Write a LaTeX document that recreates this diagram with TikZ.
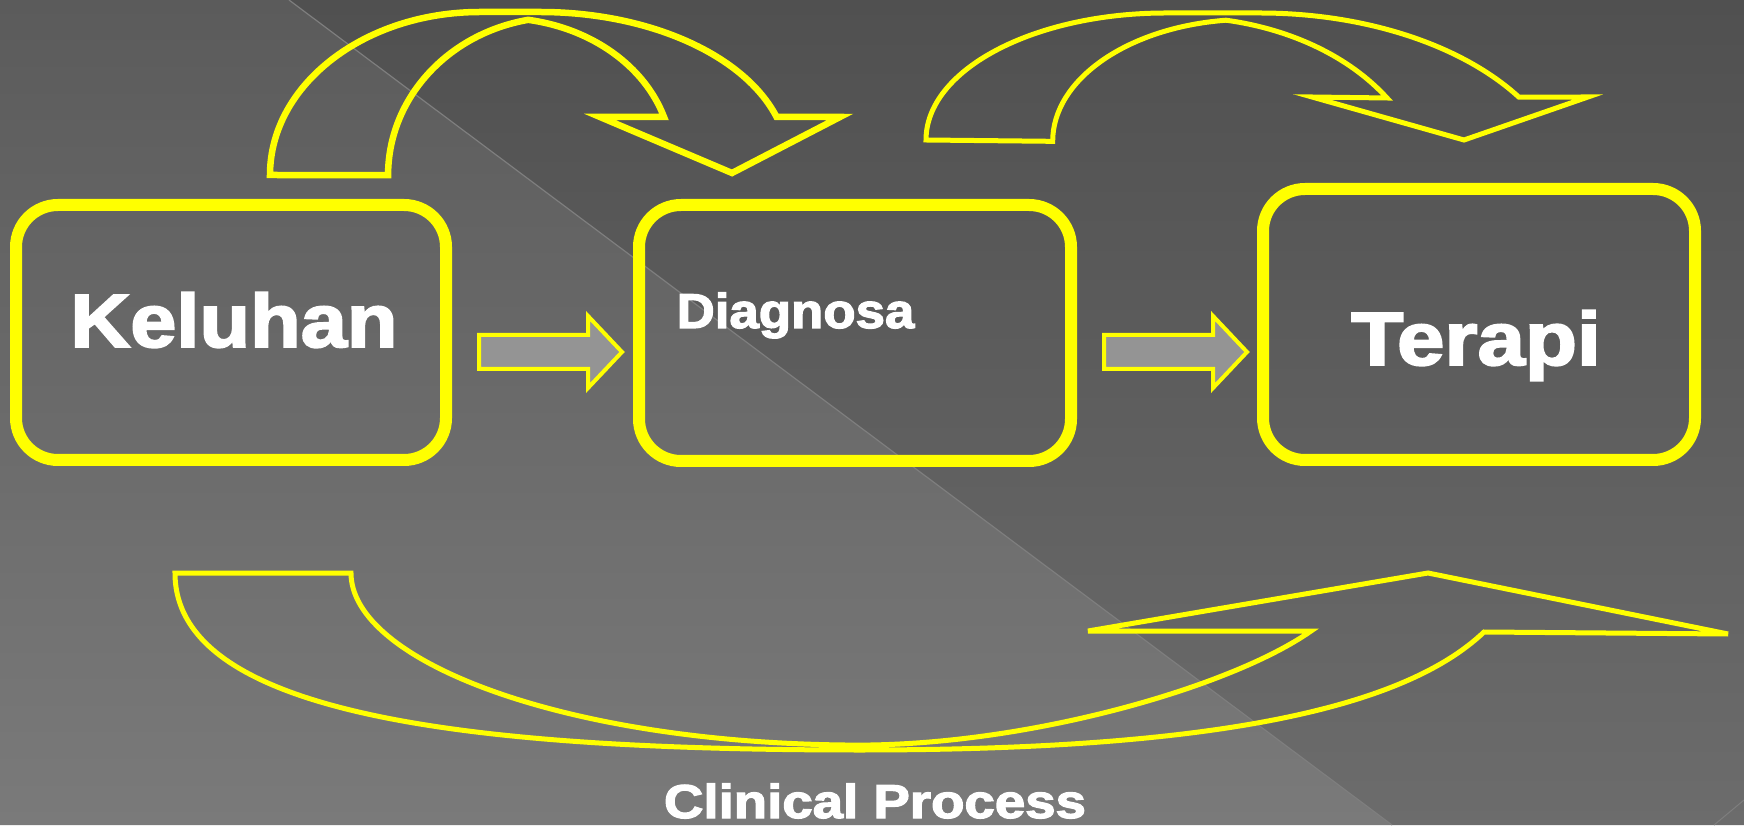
\documentclass[tikz,border=0pt]{standalone}
\usepackage{fontspec}
\setmainfont{Liberation Sans}
\newfontfamily\heavy{Liberation Sans}[BoldFont={Liberation Sans Bold}, BoldFeatures={FakeBold=2.5}]
\usepackage{graphicx}
\definecolor{ylw}{HTML}{FFFF00}
\definecolor{arrowfill}{HTML}{949494}
\definecolor{diagline}{HTML}{7E7E7E}
\definecolor{bgLtop}{HTML}{5B5B5B}
\definecolor{bgLbot}{HTML}{7A7A7A}
\definecolor{bgRtop}{HTML}{505050}
\definecolor{bgRbot}{HTML}{6C6C6C}
\begin{document}
\begin{tikzpicture}[x=1pt,y=1pt,
  bigbox/.style={draw=ylw, line width=12pt, rounded corners=42pt, inner sep=0pt, outer sep=0pt},
  lbl/.style={text=white, inner sep=0pt, anchor=base},
  curvarrow/.style={draw=ylw, line join=miter},
  blockarrow/.style={draw=ylw, fill=arrowfill, line width=4pt, line join=miter}]
\useasboundingbox (0,0) rectangle (1744,825);
% background
\shade[top color=bgLtop, bottom color=bgLbot] (0,0) -- (1392,0) -- (289,825) -- (0,825) -- cycle;
\shade[top color=bgRtop, bottom color=bgRbot] (289,825) -- (1744,825) -- (1744,0) -- (1392,0) -- cycle;
\draw[diagline, line width=1.2pt] (289,825) -- (1392,0);
\draw[diagline, line width=1pt] (1714,0) -- (1744,25);
% boxes
\node[bigbox, minimum width=430pt, minimum height=255pt] (keluhan) at (231,492.5) {};
\node[bigbox, minimum width=432pt, minimum height=256pt] (diagnosa) at (855,492) {};
\node[bigbox, minimum width=432pt, minimum height=271pt] (terapi) at (1479,500.5) {};
% labels
\node[lbl, font=\heavy\bfseries\fontsize{75.4}{80}\selectfont] (tkel) at (234,478) {\scalebox{1.1}[1]{Keluhan}};
\node[lbl, font=\heavy\bfseries\fontsize{48.9}{52}\selectfont] (tdiag) at (795.5,497) {\scalebox{1.08}[1]{Diagnosa}};
\node[lbl, font=\heavy\bfseries\fontsize{75.4}{80}\selectfont] (tter) at (1476,460) {\scalebox{1.13}[1]{Terapi}};
\node[lbl, font=\heavy\bfseries\fontsize{47.5}{50}\selectfont] (tclin) at (875,7) {\scalebox{1.15}[1]{Clinical Process}};
% block arrows between boxes
\draw[blockarrow] (479,456) -- (588,456) -- (588,437) -- (622,473) -- (588,509) -- (588,490) -- (479,490) -- cycle;
\draw[blockarrow] (1104,456) -- (1213,456) -- (1213,437) -- (1247,473) -- (1213,509) -- (1213,490) -- (1104,490) -- cycle;
% curved arrow A (top left)
\draw[curvarrow, line width=6.5pt] (270,650)
  arc[start angle=180, end angle=90, x radius=210pt, y radius=163pt]
  -- (540,813)
  arc[start angle=90, end angle=17.5, x radius=248pt, y radius=150pt]
  -- (840,708) -- (732,652) -- (600,708) -- (664,708)
  arc[start angle=17.6, end angle=80.6, x radius=172pt, y radius=142pt]
  arc[start angle=100.7, end angle=180, x radius=172pt, y radius=158pt]
  -- cycle;
% curved arrow B (top right)
\draw[curvarrow, line width=5pt] (926,685)
  arc[start angle=180, end angle=90, x radius=240pt, y radius=127pt]
  -- (1260,812)
  arc[start angle=90, end angle=33.4, x radius=310pt, y radius=187pt]
  -- (1588,728) -- (1464,685) -- (1312,728) -- (1387,727)
  arc[start angle=33.4, end angle=79.3, x radius=248pt, y radius=180pt]
  arc[start angle=96.9, end angle=180, x radius=197pt, y radius=122pt]
  -- cycle;
% curved arrow C (bottom)
\draw[curvarrow, line width=5pt] (175,252) .. controls (175,112) and (460,75) .. (860,75)
  .. controls (1200,75) and (1400,113) .. (1484,193)
  -- (1728,191) -- (1428,252) -- (1088,194) -- (1311,194)
  .. controls (1230,137) and (1020,77) .. (845,80)
  .. controls (560,83) and (351,165) .. (351,252)
  -- cycle;
\end{tikzpicture}
\end{document}
